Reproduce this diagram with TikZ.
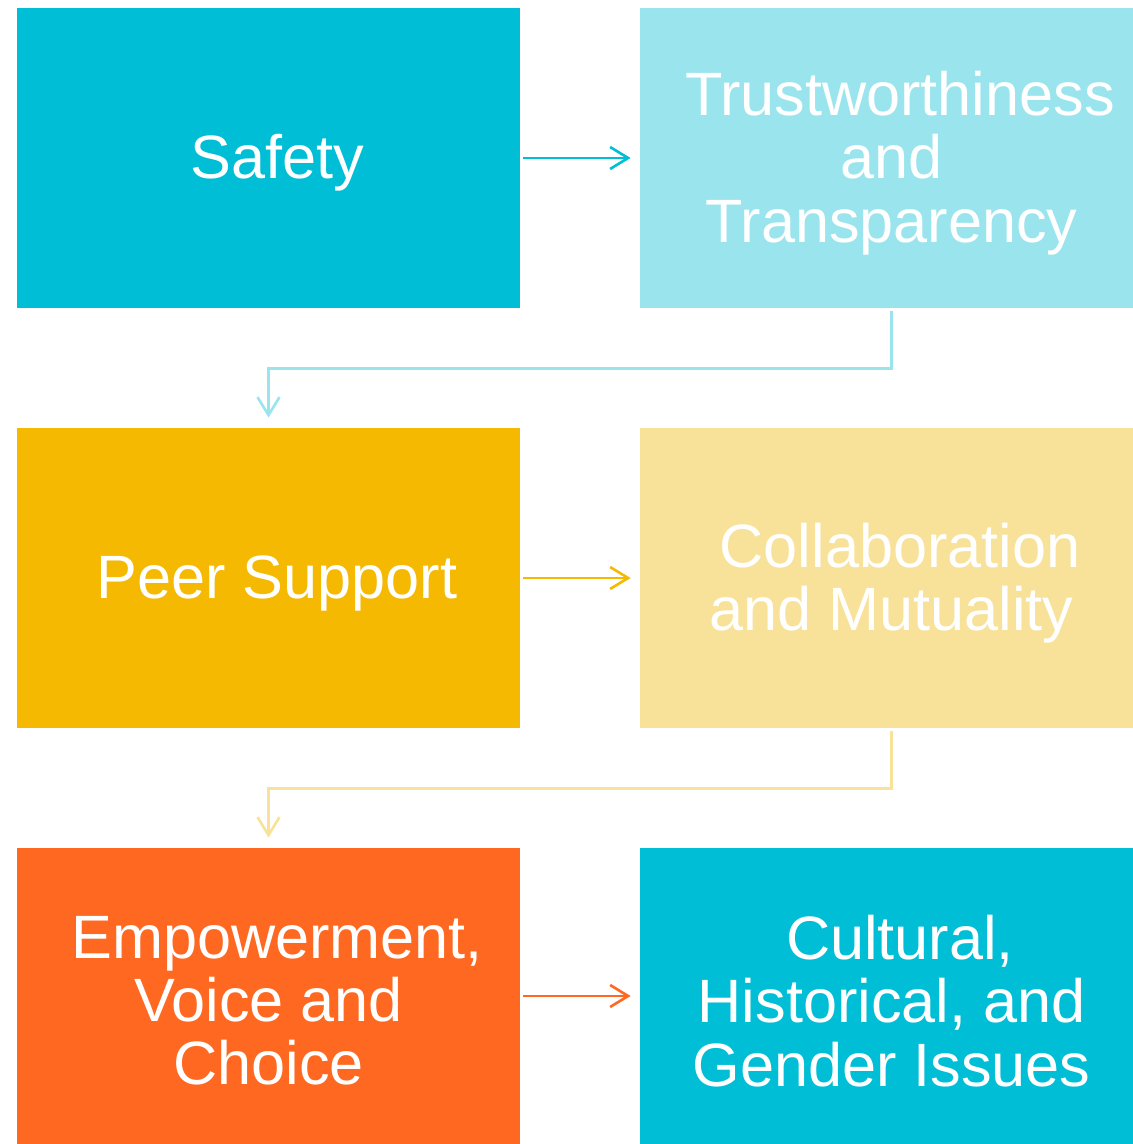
\documentclass[tikz,border=0pt]{standalone}
\usepackage{fontspec}
\setmainfont{Liberation Sans}
\usetikzlibrary{arrows.meta}
\definecolor{cyanA}{RGB}{0,190,214}
\definecolor{cyanB}{RGB}{154,229,237}
\definecolor{amberA}{RGB}{244,185,0}
\definecolor{amberB}{RGB}{248,226,154}
\definecolor{orangeA}{RGB}{255,104,32}
\newcommand{\lead}{\hspace*{0.278em}}
\begin{document}
\begin{tikzpicture}[x=0.5pt,y=-0.5pt,
  card/.style={rectangle, inner sep=0pt, minimum width=251.5pt, minimum height=150pt},
  lowcard/.style={card, minimum height=148pt},
  cardtext/.style={inner sep=0pt, text=white, align=center,
    font=\fontsize{30.6}{31.6}\selectfont, yshift=-2.5pt},
  flow/.style={line width=1.3pt, -{Straight Barb[length=9pt,width=11pt,line width=1.3pt]}}]
  \useasboundingbox (0,0) rectangle (1133,1144);

  % the six principles
  \node[card, fill=cyanA]      (safety)  at (268.5,158) {};
  \node[card, fill=cyanB]      (trust)   at (891.5,158) {};
  \node[card, fill=amberA]     (peer)    at (268.5,578) {};
  \node[card, fill=amberB]     (collab)  at (891.5,578) {};
  \node[lowcard, fill=orangeA] (empower) at (268.5,996) {};
  \node[lowcard, fill=cyanA]   (culture) at (891.5,996) {};

  % their captions
  \node[cardtext] (safety-t)  at (safety)  {\lead Safety};
  \node[cardtext] (trust-t)   at (trust)   {\lead Trustworthiness\\and\\Transparency};
  \node[cardtext] (peer-t)    at (peer)    {\lead Peer Support};
  \node[cardtext] (collab-t)  at (collab)  {\lead Collaboration\\and Mutuality};
  \node[cardtext] (empower-t) at (empower) {\lead Empowerment,\\Voice and\\Choice};
  \node[cardtext] (culture-t) at (culture) {\lead Cultural,\\Historical, and\\Gender Issues};

  % row-to-row flow
  \draw[flow, cyanA]   ([xshift=1.5pt]safety.east)  -- ([xshift=-4.5pt]trust.west);
  \draw[flow, cyanB, shorten <=1.5pt, shorten >=5pt] (trust.south) -- ++(0,60) -| (peer.north);
  \draw[flow, amberA]  ([xshift=1.5pt]peer.east)    -- ([xshift=-4.5pt]collab.west);
  \draw[flow, amberB, shorten <=1.5pt, shorten >=5pt] (collab.south) -- ++(0,60) -| (empower.north);
  \draw[flow, orangeA] ([xshift=1.5pt]empower.east) -- ([xshift=-4.5pt]culture.west);
\end{tikzpicture}
\end{document}
